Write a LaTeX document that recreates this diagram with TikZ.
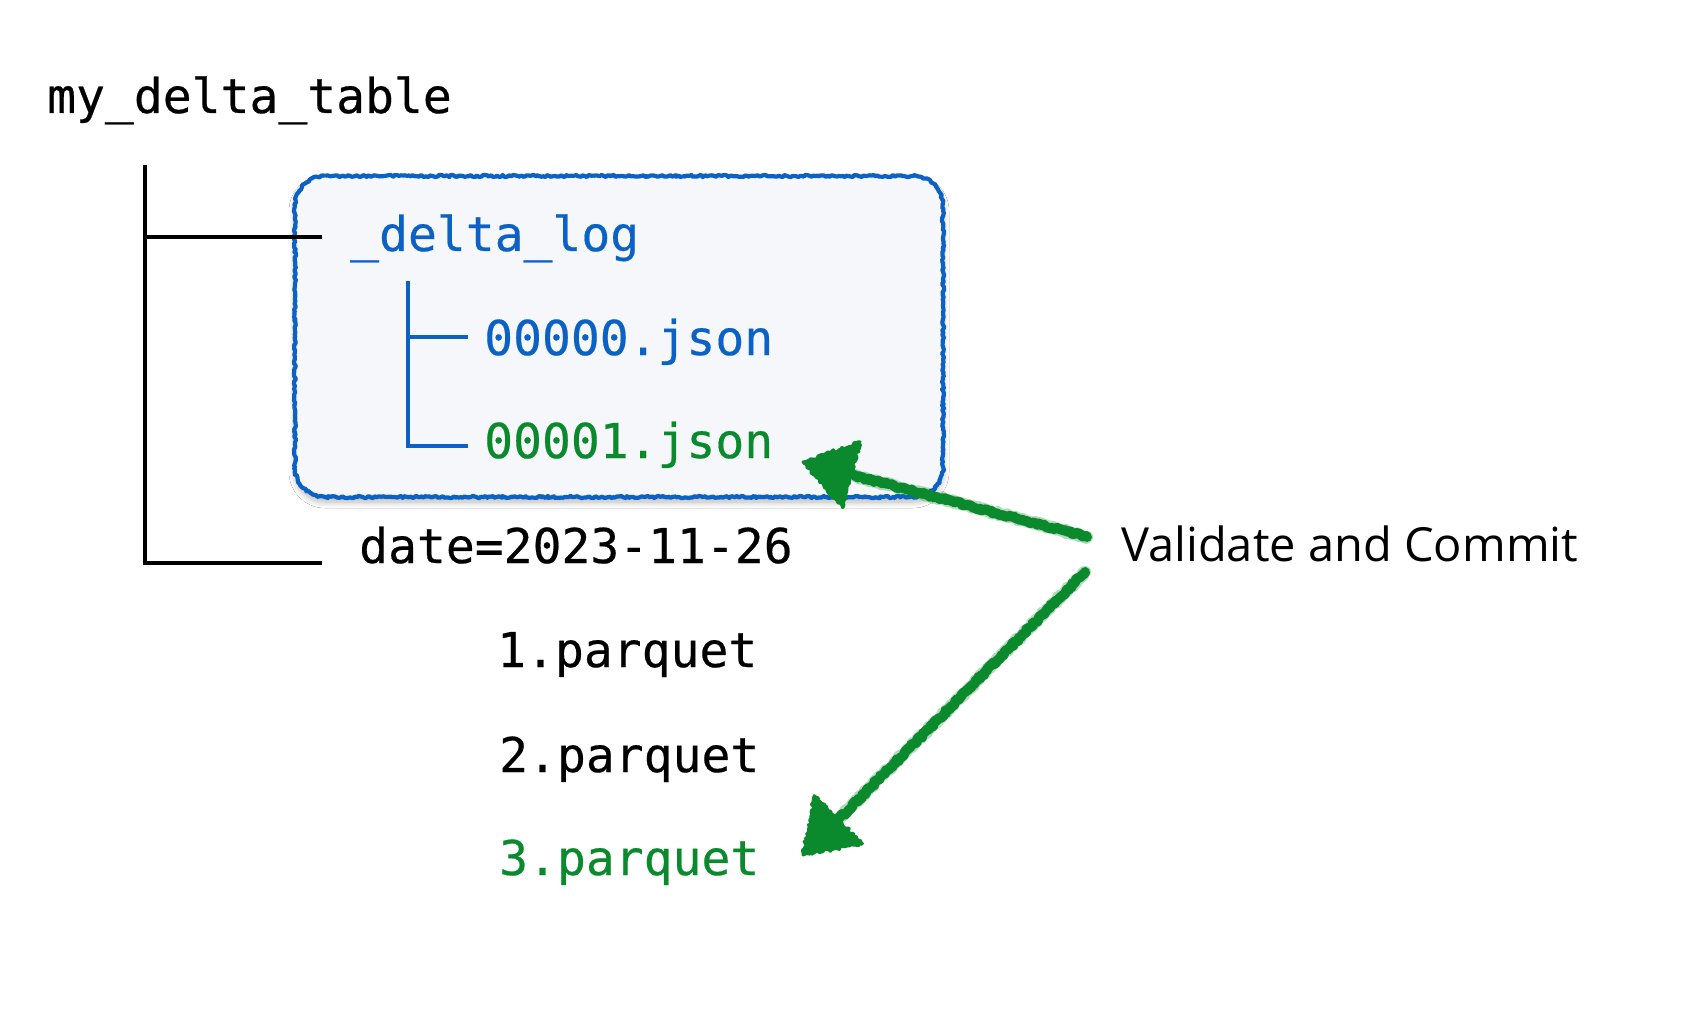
\documentclass[tikz,border=0pt]{standalone}
\usepackage{fontspec}
\setmonofont[FakeBold=0.4]{DejaVu Sans Mono}
\newfontfamily\labelfont{Open Sans}
\usetikzlibrary{decorations.pathmorphing,calc,shadows.blur}

\definecolor{logblue}{HTML}{0B62C4}
\definecolor{newgreen}{HTML}{0A8A2C}
\definecolor{boxfill}{HTML}{F5F7FB}

\newcommand\dlboxpath{(325,176) -- (913,176) .. controls (929.6,176) and (943,189.4) .. (943,206) -- (943,467) .. controls (943,483.6) and (929.6,497) .. (913,497) -- (325,497) .. controls (308.4,497) and (295,483.6) .. (295,467) -- (295,206) .. controls (295,189.4) and (308.4,176) .. (325,176) -- cycle}

\begin{document}
\begin{tikzpicture}[x=1pt,y=-1pt,
  mono/.style={font=\ttfamily\fontsize{48}{56}\selectfont, inner sep=0pt, anchor=base west},
  datetext/.style={font=\ttfamily\fontsize{48}{56}\selectfont, inner sep=0pt, anchor=base west},
  sidelabel/.style={font=\labelfont\fontsize{47}{56}\selectfont, inner sep=0pt, anchor=base west},
  treeblack/.style={draw=black, line width=3.5pt},
  treeblue/.style={draw=logblue, line width=3.2pt},
  crayon/.style={draw=newgreen, line width=10pt, line cap=round, line join=round, decorate,
    decoration={random steps, segment length=2pt, amplitude=1.3pt}},
  crayonhalo/.style={draw=newgreen, line width=12pt, line cap=round, line join=round, opacity=0.3, decorate,
    decoration={random steps, segment length=1.5pt, amplitude=1.5pt}},
  crayonhead/.style={fill=newgreen, draw=newgreen, line width=3pt, line join=round, decorate,
    decoration={random steps, segment length=2pt, amplitude=1.6pt}}
]
\pgfmathsetseed{4242}
\useasboundingbox (0,0) rectangle (1688,1016);
\fill[white] (0,0) rectangle (1688,1016);

% log box
\fill[boxfill, blur shadow={shadow blur steps=10, shadow xshift=0pt, shadow yshift=-5pt, shadow opacity=28, shadow blur radius=6pt}] \dlboxpath;
\draw[logblue, line width=4.2pt, line join=round, decorate,
  decoration={random steps, segment length=2pt, amplitude=1.1pt}] \dlboxpath;

% texts
\node[mono] (root) at (47,113) {my\_delta\_table};
\node[mono, text=logblue] (log) at (350,251) {\_delta\_log};
\node[mono, text=logblue] (j0) at (484,355) {00000.json};
\node[mono, text=newgreen] (j1) at (484,458) {00001.json};
\node[datetext] (date) at (359,563) {date=2023-11-26};
\node[mono] (p1) at (497,667) {1.parquet};
\node[mono] (p2) at (499,772) {2.parquet};
\node[mono, text=newgreen] (p3) at (499,875) {3.parquet};
\node[sidelabel] (vc) at (1121,561) {Validate and Commit};

% black tree
\coordinate (tA) at (145,165);
\coordinate (tB) at (145,237);
\coordinate (tC) at (322,237);
\coordinate (tD) at (145,563);
\coordinate (tE) at (322,563);
\draw[treeblack] (tA) -- (tD) -- (tE);
\draw[treeblack] (tB) -- (tC);

% blue tree
\coordinate (bA) at (408,281);
\coordinate (bB) at (408,337);
\coordinate (bC) at (468,337);
\coordinate (bD) at (408,446);
\coordinate (bE) at (468,446);
\draw[treeblue] (bA) -- (bD) -- (bE);
\draw[treeblue] (bB) -- (bC);

% arrows
\coordinate (a1tail) at (1087,537);
\coordinate (a1tip) at (803,462);
\coordinate (a1base) at ($(a1tip)!50pt!(a1tail)$);
\coordinate (a1l) at ($(a1base)!34pt!90:(a1tip)$);
\coordinate (a1r) at ($(a1base)!34pt!-90:(a1tip)$);
\draw[crayonhalo] (a1tail) -- (a1base);
\draw[crayon] (a1tail) -- (a1base);
\path[crayonhead] (a1tip) -- (a1l) -- (a1r) -- cycle;

\coordinate (a2tail) at (1085,572);
\coordinate (a2tip) at (803,855);
\coordinate (a2base) at ($(a2tip)!50pt!(a2tail)$);
\coordinate (a2l) at ($(a2base)!34pt!90:(a2tip)$);
\coordinate (a2r) at ($(a2base)!34pt!-90:(a2tip)$);
\draw[crayonhalo] (a2tail) -- (a2base);
\draw[crayon] (a2tail) -- (a2base);
\path[crayonhead] (a2tip) -- (a2l) -- (a2r) -- cycle;
\end{tikzpicture}
\end{document}
